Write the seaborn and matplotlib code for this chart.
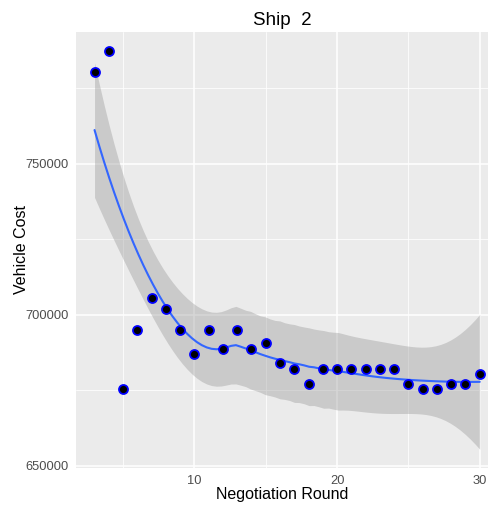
import math
import numpy as np
import pandas as pd
import matplotlib
matplotlib.use("Agg")
import matplotlib.pyplot as plt
from matplotlib.ticker import FixedLocator
import seaborn as sns

# ==========================================
# DATA
# ==========================================
rounds = [3, 4, 5, 6, 7, 8, 9, 10, 11, 12, 13, 14, 15, 16,
          17, 18, 19, 20, 21, 22, 23, 24, 25, 26, 27, 28, 29, 30]
vehicle_cost = [780500, 787500, 675500, 695000, 705500, 702000, 695000,
                687000, 695000, 688500, 695000, 688500, 690500, 684000,
                682000, 677000, 682000, 682000, 682000, 682000, 682000,
                682000, 677000, 675500, 675500, 677000, 677000, 680500]

x_major = [10, 20, 30]
x_minor = [5, 15, 25]
y_major = [650000, 700000, 750000]
y_minor = [675000, 725000, 775000]

title = "Ship  2"
x_label = "Negotiation Round"
y_label = "Vehicle Cost"


# ==========================================
# LOESS (degree 2, span 0.75) with standard errors, like R's loess
# ==========================================
def loess_matrix(x, x_eval, span=0.75):
    n = len(x)
    q = int(np.floor(n * span))
    rows = []
    for x0 in x_eval:
        d = np.abs(x - x0)
        h = np.sort(d)[q - 1]
        u = np.clip(d / h, 0, 1)
        w = (1 - u ** 3) ** 3
        X = np.column_stack([np.ones(n), x - x0, (x - x0) ** 2])
        XtW = X.T * w
        rows.append(np.linalg.solve(XtW @ X, XtW)[0])
    return np.array(rows)


def t_quantile(p, df):
    c = math.gamma((df + 1) / 2) / (math.sqrt(df * math.pi) * math.gamma(df / 2))
    grid = np.linspace(0, 20, 200001)
    pdf = c * (1 + grid ** 2 / df) ** (-(df + 1) / 2)
    cdf = 0.5 + np.concatenate([[0], np.cumsum((pdf[1:] + pdf[:-1]) / 2 * np.diff(grid))])
    return float(np.interp(p, cdf, grid))


x = np.array(rounds, dtype=float)
y = np.array(vehicle_cost, dtype=float)
xs = np.linspace(x.min(), x.max(), 80)

L_data = loess_matrix(x, x)
L_eval = loess_matrix(x, xs)
resid = y - L_data @ y
M = np.eye(len(x)) - L_data
MM = M.T @ M
one_delta = np.trace(MM)
two_delta = np.trace(MM @ MM)
sigma = np.sqrt(np.sum(resid ** 2) / one_delta)
df_res = one_delta ** 2 / two_delta
fit = L_eval @ y
se = sigma * np.sqrt(np.sum(L_eval ** 2, axis=1))
tq = t_quantile(0.975, df_res)

smooth = pd.DataFrame({"x": xs, "fit": fit, "lo": fit - tq * se, "hi": fit + tq * se})
points = pd.DataFrame({"round": rounds, "cost": vehicle_cost})

# ==========================================
# PLOT
# ==========================================
sns.set_theme(style="darkgrid", rc={
    "axes.facecolor": "#EBEBEB",
    "grid.color": "white",
    "xtick.color": "#333333",
    "ytick.color": "#333333",
})
plt.rcParams["font.family"] = ["Liberation Sans", "DejaVu Sans"]

fig = plt.figure(figsize=(4.88, 5.05), dpi=100)
ax = fig.add_axes([76 / 488, 37 / 505, 412 / 488, 436 / 505])

ax.fill_between(smooth["x"], smooth["lo"], smooth["hi"], color="#999999",
                alpha=0.4, linewidth=0, zorder=2)
sns.lineplot(data=smooth, x="x", y="fit", color="#3366FF", linewidth=1.5,
             ax=ax, zorder=3)
sns.scatterplot(data=points, x="round", y="cost", color="black",
                edgecolor="blue", s=42, linewidth=1.3, ax=ax, zorder=4)

ax.set_xlim(1.7, 30.58)
ax.set_ylim(649240, 793650)

ax.xaxis.set_major_locator(FixedLocator(x_major))
ax.xaxis.set_minor_locator(FixedLocator(x_minor))
ax.yaxis.set_major_locator(FixedLocator(y_major))
ax.yaxis.set_minor_locator(FixedLocator(y_minor))
ax.set_xticklabels([str(v) for v in x_major])
ax.set_yticklabels([str(v) for v in y_major])

ax.grid(True, which="major", color="white", linewidth=1.1)
ax.grid(True, which="minor", color="white", linewidth=0.55)
ax.set_axisbelow(True)
for s in ax.spines.values():
    s.set_visible(False)

ax.tick_params(axis="both", which="major", length=3.5, width=0.8,
               color="#333333", labelcolor="#4D4D4D", labelsize=9.3, pad=1.5)
ax.tick_params(axis="both", which="minor", length=0)

ax.set_xlabel(x_label, fontsize=11.5, color="black", labelpad=0)
ax.set_ylabel(y_label, fontsize=11.5, color="black", labelpad=-2.5)
ax.set_title(title, fontsize=13.5, color="black", pad=5)

fig.savefig("out.png", dpi=100)
